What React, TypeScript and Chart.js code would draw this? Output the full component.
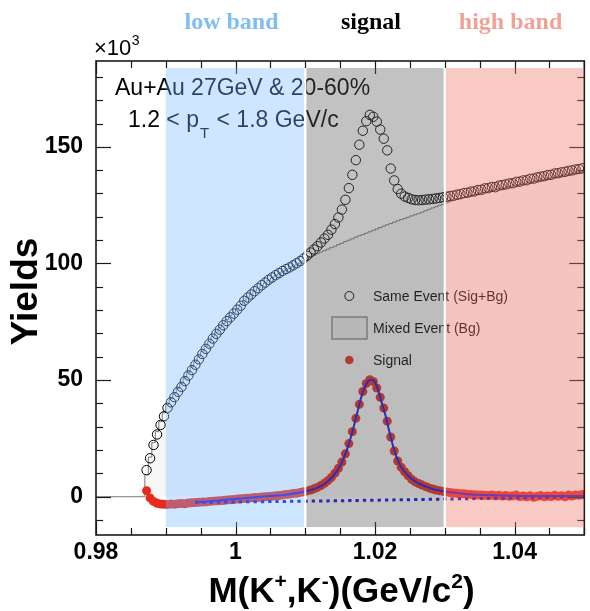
import { useEffect, useRef } from "react";
import { Chart, registerables } from "chart.js";

Chart.register(...registerables);

// ---------------- data (yields in units of 10^3) ----------------
const massBins = [
  0.98725, 0.98775, 0.98825, 0.98875, 0.98925, 0.98975, 0.99025, 0.99075, 0.99125, 0.99175,
  0.99225, 0.99275, 0.99325, 0.99375, 0.99425, 0.99475, 0.99525, 0.99575, 0.99625, 0.99675,
  0.99725, 0.99775, 0.99825, 0.99875, 0.99925, 0.99975, 1.00025, 1.00075, 1.00125, 1.00175,
  1.00225, 1.00275, 1.00325, 1.00375, 1.00425, 1.00475, 1.00525, 1.00575, 1.00625, 1.00675,
  1.00725, 1.00775, 1.00825, 1.00875, 1.00925, 1.00975, 1.01025, 1.01075, 1.01125, 1.01175,
  1.01225, 1.01275, 1.01325, 1.01375, 1.01425, 1.01475, 1.01525, 1.01575, 1.01625, 1.01675,
  1.01725, 1.01775, 1.01825, 1.01875, 1.01925, 1.01975, 1.02025, 1.02075, 1.02125, 1.02175,
  1.02225, 1.02275, 1.02325, 1.02375, 1.02425, 1.02475, 1.02525, 1.02575, 1.02625, 1.02675,
  1.02725, 1.02775, 1.02825, 1.02875, 1.02925, 1.02975, 1.03025, 1.03075, 1.03125, 1.03175,
  1.03225, 1.03275, 1.03325, 1.03375, 1.03425, 1.03475, 1.03525, 1.03575, 1.03625, 1.03675,
  1.03725, 1.03775, 1.03825, 1.03875, 1.03925, 1.03975, 1.04025, 1.04075, 1.04125, 1.04175,
  1.04225, 1.04275, 1.04325, 1.04375, 1.04425, 1.04475, 1.04525, 1.04575, 1.04625, 1.04675,
  1.04725, 1.04775, 1.04825, 1.04875, 1.04925, 1.04975,
];

const sameEvent = [
  11.4, 16.5, 22.2, 26.7, 30.8, 34.5, 38.1, 40.5, 42.7, 45.0,
  47.1, 49.6, 52.0, 54.3, 56.6, 58.9, 61.2, 63.4, 65.6, 67.8,
  69.8, 71.6, 73.5, 75.3, 76.9, 78.5, 80.2, 81.9, 84.0, 85.4,
  86.7, 88.1, 89.4, 90.7, 91.8, 93.0, 94.0, 95.0, 95.9, 96.8,
  97.6, 98.3, 99.2, 100.1, 101.0, 102.1, 103.3, 104.7, 106.0, 107.4,
  109.0, 110.7, 112.3, 114.5, 116.9, 119.7, 123.1, 127.3, 132.3, 138.0,
  144.3, 150.9, 156.9, 161.0, 163.7, 162.9, 160.8, 157.4, 153.5, 148.5,
  140.7, 135.6, 131.9, 129.9, 128.7, 128.1, 127.5, 127.2, 127.1, 127.2,
  127.4, 127.5, 127.7, 127.9, 128.1, 128.4, 128.6, 128.9, 129.1, 129.5,
  129.7, 130.2, 130.3, 130.8, 130.9, 131.5, 131.6, 132.2, 132.3, 132.8,
  132.7, 133.4, 133.6, 133.9, 134.3, 134.4, 135.0, 135.1, 135.6, 135.7,
  136.3, 136.4, 136.9, 137.2, 137.4, 137.9, 138.0, 138.6, 138.7, 139.1,
  139.3, 139.7, 139.9, 140.3, 140.5, 140.8,
];

const mixedEvent = [
  9.5, 17.0, 23.2, 27.9, 32.2, 36.0, 39.6, 42.0, 44.2, 46.5,
  48.6, 51.0, 53.4, 55.6, 57.9, 60.1, 62.4, 64.5, 66.6, 68.8,
  70.6, 72.5, 74.3, 76.0, 77.6, 79.1, 80.7, 82.3, 84.1, 85.5,
  86.8, 88.1, 89.4, 90.6, 91.7, 92.8, 93.8, 94.7, 95.6, 96.4,
  97.2, 97.9, 98.6, 99.4, 100.2, 101.1, 102.0, 102.8, 103.5, 104.2,
  104.9, 105.5, 106.1, 106.8, 107.4, 108.1, 108.7, 109.4, 110.0, 110.6,
  111.3, 111.9, 112.4, 113.0, 113.6, 114.2, 114.8, 115.4, 116.0, 116.6,
  117.1, 117.7, 118.3, 118.8, 119.3, 119.8, 120.4, 120.9, 121.4, 122.0,
  122.6, 123.2, 123.8, 124.3, 124.9, 125.4, 125.9, 126.5, 127.0, 127.5,
  127.9, 128.3, 128.7, 129.1, 129.5, 129.9, 130.2, 130.6, 130.9, 131.3,
  131.6, 132.0, 132.3, 132.7, 133.0, 133.3, 133.6, 133.9, 134.2, 134.5,
  134.9, 135.2, 135.5, 135.8, 136.1, 136.4, 136.7, 137.1, 137.4, 137.7,
  138.0, 138.3, 138.6, 138.9, 139.2, 139.5,
];

// empty mixed-event bins below the K+K- threshold
const mixedBelowMass = [0.98, 0.98675];
const mixedBelowVal = [0, 0];

const signal = [
  2.6, -0.5, -2.0, -2.8, -3.1, -3.2, -3.3, -3.1, -3.2, -3.0,
  -2.9, -3.0, -2.7, -2.6, -2.5, -2.4, -2.3, -2.2, -2.0, -1.9,
  -1.8, -1.7, -1.6, -1.4, -1.3, -1.2, -1.0, -0.9, -0.7, -0.6,
  -0.5, -0.3, -0.3, -0.1, 0.0, 0.1, 0.2, 0.4, 0.5, 0.8,
  1.0, 1.1, 1.4, 1.5, 1.8, 2.1, 2.5, 2.9, 3.4, 4.0,
  4.8, 5.8, 6.9, 8.3, 10.1, 12.2, 14.9, 18.4, 22.8, 27.9,
  33.6, 39.6, 45.1, 48.6, 50.2, 49.4, 46.6, 42.6, 38.0, 32.4,
  25.6, 19.6, 15.3, 12.6, 10.7, 9.0, 7.5, 6.4, 5.7, 5.0,
  4.4, 3.8, 3.3, 2.9, 2.6, 2.3, 2.0, 1.8, 1.6, 1.5,
  1.3, 1.3, 1.1, 1.0, 0.9, 0.7, 0.8, 0.6, 0.5, 0.7,
  0.4, 0.6, 0.3, 0.5, 0.2, 0.4, 0.7, 0.1, 0.3, 0.0,
  0.4, -0.2, 0.2, 0.5, 0.0, 0.3, 0.1, 0.6, 0.2, 0.4,
  0.0, 0.7, 0.3, 0.8, 0.6, 1.0,
];

const fitMass = [
  0.9942, 0.996, 0.998, 1.0, 1.002, 1.004, 1.006, 1.007, 1.008, 1.009,
  1.01, 1.011, 1.012, 1.013, 1.014, 1.0145, 1.015, 1.0155, 1.016, 1.0165,
  1.017, 1.0175, 1.018, 1.0185, 1.019, 1.0194, 1.0198, 1.0202, 1.0206, 1.021,
  1.0215, 1.022, 1.0225, 1.023, 1.0235, 1.024, 1.0245, 1.025, 1.026, 1.027,
  1.028, 1.029, 1.03, 1.032, 1.034, 1.036, 1.038, 1.04, 1.043, 1.046, 1.05,
];
const fitVal = [
  -2.4, -2.0, -1.5, -1.0, -0.4, 0.1, 0.5, 0.8, 1.2, 1.7,
  2.3, 3.0, 4.2, 6.0, 8.9, 10.9, 13.3, 16.5, 20.4, 25.2,
  30.7, 36.6, 42.4, 46.9, 49.5, 50.2, 49.8, 47.8, 44.2, 40.0,
  34.8, 28.6, 22.6, 17.6, 14.1, 11.7, 9.8, 8.3, 6.2, 4.7,
  3.6, 2.8, 2.2, 1.5, 1.0, 0.7, 0.5, 0.4, 0.3, 0.3, 0.3,
];

const residualMass = [0.9942, 1.01, 1.03, 1.05];
const residualVal = [-2.4, -1.9, -1.0, 0.0];

const xTickLabels = [0.98, 1.0, 1.02, 1.04];
const yTickLabels = [0, 50, 100, 150];

const bandNames = ["low band", "signal", "high band"];
const bandEdges = [0.99, 1.01, 1.03, 1.05];
const bandYRange = [-13.0, 183.8];

const legendLabels = ["Same Event (Sig+Bg)", "Mixed Event (Bg)", "Signal"];
const infoLine1 = "Au+Au 27GeV & 20-60%";
const ptPrefix = "1.2 < p";
const ptSuffix = " < 1.8 GeV/c";

// ---------------- styles ----------------
const SANS = '"Liberation Sans", Arial, Helvetica, sans-serif';
const SERIF = '"Liberation Serif", "Times New Roman", serif';
const RED = "#e8291c";
const BLUE = "#1414e6";
const bandOverlay = ["rgba(120,185,255,0.36)", "rgba(90,90,90,0.37)", "rgba(240,120,105,0.40)"];
const bandTitleColor = ["#7fbdf3", "#000000", "#f2a197"];

const toPoints = (xs: number[], ys: number[]) => xs.map((x, i) => ({ x, y: ys[i] }));

const decorations = {
  id: "rootDecorations",
  afterDraw(chart: any) {
    const { ctx, chartArea: ca } = chart;
    const xs = chart.scales.x;
    const ys = chart.scales.y;
    const X = (v: number) => xs.getPixelForValue(v);
    const Y = (v: number) => ys.getPixelForValue(v);
    const line = (x1: number, y1: number, x2: number, y2: number) => {
      ctx.beginPath();
      ctx.moveTo(x1, y1);
      ctx.lineTo(x2, y2);
      ctx.stroke();
    };
    ctx.save();

    // info text
    ctx.fillStyle = "#000";
    ctx.textAlign = "left";
    ctx.textBaseline = "alphabetic";
    ctx.font = `23px ${SANS}`;
    ctx.fillText(infoLine1, 115, 95);
    let px = 128;
    ctx.fillText(ptPrefix, px, 127);
    px += ctx.measureText(ptPrefix).width;
    ctx.font = `15px ${SANS}`;
    ctx.fillText("T", px + 1, 138);
    px += ctx.measureText("T").width + 2;
    ctx.font = `23px ${SANS}`;
    ctx.fillText(ptSuffix, px, 127);

    // legend
    ctx.font = `14px ${SANS}`;
    ctx.strokeStyle = "#000";
    ctx.lineWidth = 1;
    ctx.beginPath();
    ctx.arc(349.3, 296, 4.5, 0, Math.PI * 2);
    ctx.stroke();
    ctx.fillText(legendLabels[0], 373, 301);
    ctx.fillStyle = "rgba(0,0,0,0.035)";
    ctx.fillRect(332, 317, 35, 22);
    ctx.strokeStyle = "#777";
    ctx.lineWidth = 1.2;
    ctx.strokeRect(332, 317, 35, 22);
    ctx.fillStyle = "#000";
    ctx.fillText(legendLabels[1], 373, 333);
    ctx.beginPath();
    ctx.arc(349.3, 360, 4.3, 0, Math.PI * 2);
    ctx.fillStyle = RED;
    ctx.fill();
    ctx.fillStyle = "#000";
    ctx.fillText(legendLabels[2], 373, 364.5);

    // ticks (inward, all four sides)
    ctx.strokeStyle = "#1a1a1a";
    ctx.lineWidth = 1.2;
    for (let k = 0; k <= 14; k++) {
      const p = Math.round(X(0.98 + k * 0.005)) + 0.5;
      const len = k % 4 === 0 ? 13 : 7;
      line(p, ca.bottom, p, ca.bottom - len);
      line(p, ca.top, p, ca.top + len);
    }
    for (let v = -10; v <= 180; v += 10) {
      const p = Math.round(Y(v)) + 0.5;
      const len = v % 50 === 0 ? 15 : 7;
      line(ca.left, p, ca.left + len, p);
      line(ca.right, p, ca.right - len, p);
    }
    ctx.lineWidth = 1.6;
    ctx.strokeRect(ca.left, ca.top, ca.right - ca.left, ca.bottom - ca.top);

    // translucent band overlays
    const yTop = Y(bandYRange[1]);
    const yBot = Y(bandYRange[0]);
    for (let i = 0; i < 3; i++) {
      const x0 = X(bandEdges[i]) + (i > 0 ? 1 : 0);
      const x1 = X(bandEdges[i + 1]) - 1;
      ctx.fillStyle = bandOverlay[i];
      ctx.fillRect(x0, yTop, x1 - x0, yBot - yTop);
    }
    ctx.fillStyle = "#fff";
    for (const e of [bandEdges[1], bandEdges[2]]) {
      ctx.fillRect(X(e) - 1, yTop, 2, yBot - yTop);
    }

    // band titles
    ctx.textAlign = "center";
    ctx.font = `bold 24px ${SERIF}`;
    for (let i = 0; i < 3; i++) {
      ctx.fillStyle = bandTitleColor[i];
      ctx.fillText(bandNames[i], (X(bandEdges[i]) + X(bandEdges[i + 1])) / 2 - 4, 29);
    }

    // x10^3
    ctx.fillStyle = "#000";
    ctx.textAlign = "left";
    ctx.font = `22px ${SANS}`;
    ctx.fillText("\u00d710", 94, 55);
    const w10 = ctx.measureText("\u00d710").width;
    ctx.font = `14px ${SANS}`;
    ctx.fillText("3", 94 + w10 + 0.5, 45);

    // x axis title with superscripts
    const parts: [string, boolean][] = [
      ["M(K", false], ["+", true], [",K", false], ["-", true], [")(GeV/c", false], ["2", true], [")", false],
    ];
    const bigFont = `bold 35px ${SANS}`;
    const supFont = `bold 21px ${SANS}`;
    let total = 0;
    for (const [t, sup] of parts) {
      ctx.font = sup ? supFont : bigFont;
      total += ctx.measureText(t).width;
    }
    let tx = 341.5 - total / 2;
    for (const [t, sup] of parts) {
      ctx.font = sup ? supFont : bigFont;
      ctx.fillText(t, tx, sup ? 588 : 602);
      tx += ctx.measureText(t).width;
    }

    // y axis title
    ctx.save();
    ctx.translate(37, 291.5);
    ctx.rotate(-Math.PI / 2);
    ctx.textAlign = "center";
    ctx.font = `bold 37px ${SANS}`;
    ctx.fillText("Yields", 0, 0);
    ctx.restore();

    ctx.restore();
  },
};

export default function App() {
  const ref = useRef<HTMLCanvasElement>(null);
  useEffect(() => {
    if (!ref.current) return;
    const tickFont = { family: SANS, size: 23, weight: "bold" as const };
    const chart = new Chart(ref.current, {
      type: "scatter",
      data: {
        datasets: [
          {
            type: "line",
            label: "Fit",
            data: toPoints(fitMass, fitVal),
            borderColor: BLUE,
            borderWidth: 2,
            pointRadius: 0,
            cubicInterpolationMode: "monotone",
            fill: false,
            order: 0,
          } as any,
          {
            type: "line",
            label: "Residual background",
            data: toPoints(residualMass, residualVal),
            borderColor: "#0c0cdc",
            borderWidth: 3,
            borderDash: [3.3, 4],
            pointRadius: 0,
            tension: 0.3,
            fill: false,
            order: 0,
          } as any,
          {
            type: "scatter",
            label: legendLabels[2],
            data: toPoints(massBins, signal),
            pointRadius: 4.5,
            pointBackgroundColor: RED,
            pointBorderWidth: 0,
            showLine: false,
            order: 1,
          } as any,
          {
            type: "scatter",
            label: legendLabels[0],
            data: toPoints(massBins, sameEvent),
            pointRadius: 4.7,
            pointBackgroundColor: "rgba(0,0,0,0)",
            pointBorderColor: "#000",
            pointBorderWidth: 1,
            showLine: false,
            order: 2,
          } as any,
          {
            type: "line",
            label: legendLabels[1],
            data: [...toPoints(mixedBelowMass, mixedBelowVal), ...toPoints(massBins, mixedEvent)],
            stepped: "middle",
            borderColor: "#777",
            borderWidth: 1,
            pointRadius: 0,
            fill: "origin",
            backgroundColor: "rgba(0,0,0,0.035)",
            order: 3,
          } as any,
        ],
      },
      options: {
        responsive: false,
        animation: false,
        devicePixelRatio: 1,
        events: [],
        layout: { padding: { top: 61, right: 4, left: 0, bottom: 0 } },
        plugins: { legend: { display: false }, tooltip: { enabled: false } },
        scales: {
          x: {
            type: "linear",
            min: 0.98,
            max: 1.05,
            grid: { display: false },
            border: { display: false },
            afterBuildTicks: (s: any) => {
              s.ticks = xTickLabels.map((v) => ({ value: v }));
            },
            afterFit: (s: any) => {
              s.height = 76;
            },
            ticks: {
              autoSkip: false,
              maxRotation: 0,
              padding: -4,
              color: "#000",
              font: tickFont,
              callback: (v: any) => String(Number(Number(v).toFixed(2))),
            },
          },
          y: {
            type: "linear",
            min: -16.4,
            max: 186.8,
            grid: { display: false },
            border: { display: false },
            afterBuildTicks: (s: any) => {
              s.ticks = yTickLabels.map((v) => ({ value: v }));
            },
            afterFit: (s: any) => {
              s.width = 96;
            },
            ticks: {
              autoSkip: false,
              padding: 5,
              color: "#000",
              font: tickFont,
              callback: (v: any) => String(v),
            },
          },
        },
      } as any,
      plugins: [decorations],
    });
    return () => chart.destroy();
  }, []);
  return (
    <div style={{ position: "fixed", left: 0, top: 0, width: 590, height: 611, background: "#fff" }}>
      <canvas ref={ref} width={590} height={611} style={{ display: "block", width: 590, height: 611 }} />
    </div>
  );
}
